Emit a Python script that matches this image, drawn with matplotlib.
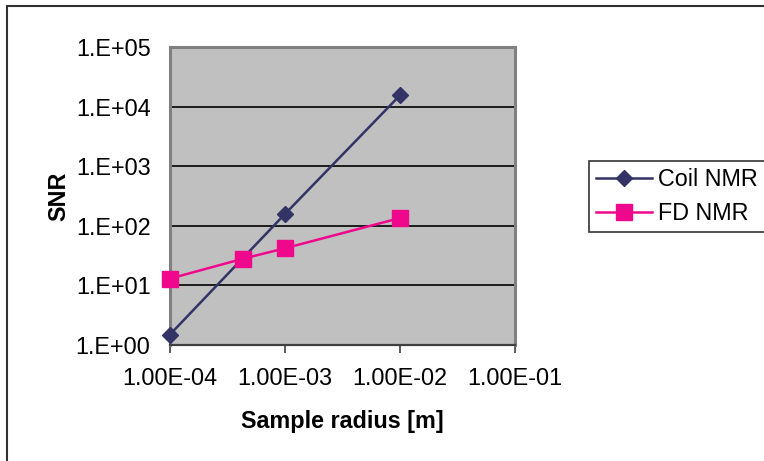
import matplotlib
matplotlib.use("Agg")
import matplotlib.pyplot as plt
from matplotlib.patches import Rectangle

plt.rcParams["font.family"] = ["Liberation Sans", "DejaVu Sans"]

radius_coil = [1e-4, 1e-3, 1e-2]
snr_coil = [1.5, 158, 15500]
radius_fd = [1e-4, 4.3e-4, 1e-3, 1e-2]
snr_fd = [13, 28, 42, 135]

xticks = [1e-4, 1e-3, 1e-2, 1e-1]
xlabels = ["1.00E-04", "1.00E-03", "1.00E-02", "1.00E-01"]
yticks = [1e0, 1e1, 1e2, 1e3, 1e4, 1e5]
ylabels = ["1.E+00", "1.E+01", "1.E+02", "1.E+03", "1.E+04", "1.E+05"]

W, H = 764, 461
fig = plt.figure(figsize=(W / 100, H / 100), dpi=100)

# outer chart frame (only top and left edges visible)
fig.patches.append(Rectangle((7 / W, -0.1), 1.2, (H - 6) / H + 0.1,
                             transform=fig.transFigure, fill=False,
                             edgecolor="#303030", linewidth=1.5))

ax = fig.add_axes([170 / W, (H - 345) / H, 345 / W, 298 / H])
ax.set_facecolor("#c0c0c0")
ax.set_xscale("log")
ax.set_yscale("log")
ax.set_xlim(1e-4, 1e-1)
ax.set_ylim(1e0, 1e5)

for y in yticks[1:-1]:
    ax.axhline(y, color="black", linewidth=1.2, zorder=1)

ax.plot(radius_coil, snr_coil, color="#333366", linewidth=1.8, marker="D",
        markersize=8.5, label="Coil NMR", zorder=3, clip_on=False)
ax.plot(radius_fd, snr_fd, color="#f0088c", linewidth=1.8, marker="s",
        markersize=11, label="FD NMR", zorder=3, clip_on=False)

ax.set_xticks(xticks)
ax.set_xticklabels(xlabels, fontsize=16.8)
ax.set_yticks(yticks)
ax.set_yticklabels(ylabels, fontsize=16.8)
ax.minorticks_off()
ax.tick_params(axis="x", direction="out", length=6, width=1.2, color="#404040", pad=10)
ax.tick_params(axis="y", length=0, pad=14)

for s in ["left", "right", "top"]:
    ax.spines[s].set_color("#808080")
    ax.spines[s].set_linewidth(2.2)
ax.spines["bottom"].set_color("#404040")
ax.spines["bottom"].set_linewidth(1.6)

ax.set_xlabel("Sample radius [m]", fontsize=16.8, fontweight="bold", labelpad=14)
ax.set_ylabel("SNR", fontsize=16.8, fontweight="bold", labelpad=4)

leg = fig.legend(loc="upper left", bbox_to_anchor=(589 / W, (H - 161) / H),
                 fontsize=16.8, frameon=True, fancybox=False, handlelength=2.4,
                 handletextpad=0.25, borderpad=0.32, labelspacing=0.45,
                 borderaxespad=0)
leg.get_frame().set_edgecolor("black")
leg.get_frame().set_linewidth(1.2)

fig.savefig("out.png", dpi=100)
